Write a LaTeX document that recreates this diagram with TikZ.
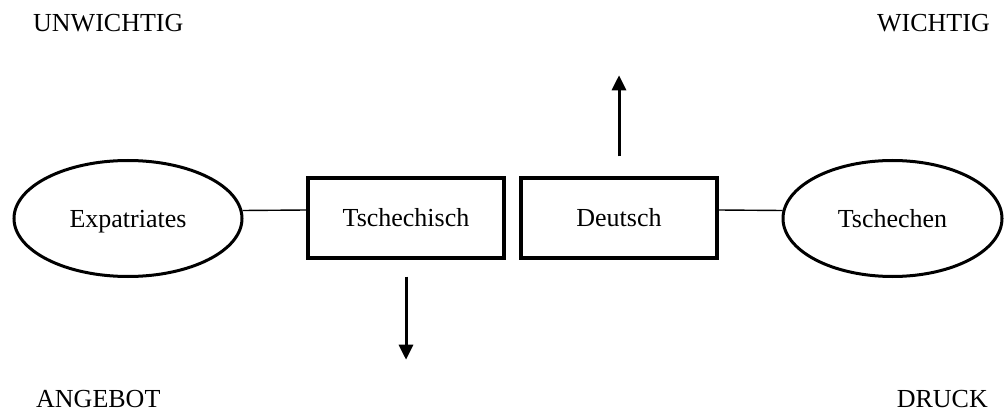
\documentclass[tikz,border=0pt]{standalone}
\usepackage{fontspec}
\setmainfont{Liberation Serif}
\usetikzlibrary{shapes.geometric,arrows.meta}
\begin{document}
\begin{tikzpicture}[x=1pt,y=-1pt,
  every node/.style={font=\fontsize{26}{30}\selectfont},
  oval/.style={ellipse,draw,line width=3pt,inner sep=0pt,text depth=0pt},
  wbox/.style={rectangle,draw,line width=3.4pt,minimum width=196pt,minimum height=80pt,inner sep=0pt},
  link/.style={line width=1.4pt},
  bigarrow/.style={line width=3pt,-{Triangle[length=15pt,width=14pt]}},
  label/.style={inner sep=0pt}]
\useasboundingbox (0,0) rectangle (1004,414);
\node[oval,minimum width=228pt,minimum height=116pt] (e1) at (128,218.5) {Expatriates};
\node[oval,minimum width=219pt,minimum height=116pt] (e2) at (892.5,218.5) {Tschechen};
\node[wbox] (t1) at (406,218) {Tschechisch};
\node[wbox] (t2) at (619,218) {Deutsch};
\draw[link] ([yshift=8pt]t1.west) -- ([yshift=8pt,xshift=-1pt]e1.east);
\draw[link] ([yshift=8pt]t2.east) -- ([yshift=8pt,xshift=1pt]e2.west);
\coordinate (upA) at ([yshift=20pt]t2.north);
\coordinate (upB) at ([yshift=101pt]t2.north);
\coordinate (dnA) at ([yshift=-17pt]t1.south);
\coordinate (dnB) at ([yshift=-100pt]t1.south);
\draw[bigarrow] (upA) -- (upB);
\draw[bigarrow] (dnA) -- (dnB);
\node[label,anchor=base west] (uw) at (33,32) {UNWICHTIG};
\node[label,anchor=base east] (w) at (990,32) {WICHTIG};
\node[label,anchor=base west] (an) at (36,407) {ANGEBOT};
\node[label,anchor=base east] (dr) at (988,407) {DRUCK};
\end{tikzpicture}
\end{document}
